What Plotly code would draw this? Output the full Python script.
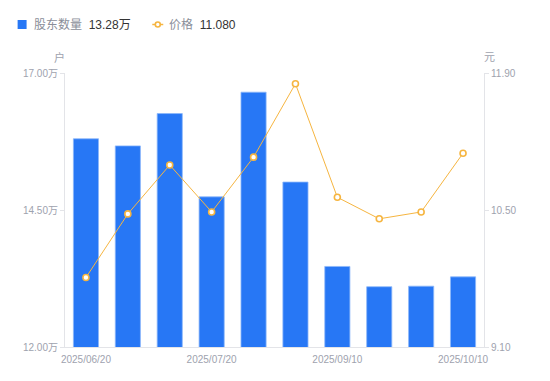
import plotly.graph_objects as go

dates = ["2025/06/20", "2025/06/30", "2025/07/10", "2025/07/20", "2025/07/31",
         "2025/08/20", "2025/09/10", "2025/09/19", "2025/09/30", "2025/10/10"]
holders = [15.80, 15.67, 16.26, 14.74, 16.65, 15.01, 13.47, 13.10, 13.11, 13.28]  # 万户
price = [9.81, 10.46, 10.96, 10.48, 11.04, 11.79, 10.63, 10.41, 10.48, 11.08]
left_ticks = [12.00, 14.50, 17.00]
right_ticks = [9.10, 10.50, 11.90]
x_label_idx = [0, 3, 6, 9]

FONT = "Liberation Sans, Noto Sans CJK SC, sans-serif"
BLUE = "#2777F5"
ORANGE = "#F6B540"
GRAY = "#9EA2AE"
AXIS = "#E3E4E8"

# page body has an 8px default margin: size the figure to fit the window
OFF = 8
W, H = 550 - OFF, 381 - OFF
# plot area in window pixels: x 64.5..484.5, y 73..347
ML = 64.5 - OFF
MR = 550 - 484.5
MT = 73 - OFF
MB = 381 - 347
pw, ph = W - ML - MR, H - MT - MB
def px(x):
    return (x - OFF - ML) / pw
def py(y):
    return (H - MB - (y - OFF)) / ph

xs = list(range(len(dates)))
fig = go.Figure()
fig.add_trace(go.Bar(
    x=xs, y=holders, name="股东数量",
    marker=dict(color=BLUE, line=dict(color="#8DB8FA", width=0.8)),
    yaxis="y", hoverinfo="skip",
))
fig.add_trace(go.Scatter(
    x=xs, y=price, name="价格", mode="lines+markers",
    line=dict(color=ORANGE, width=1),
    marker=dict(size=6, color="white", line=dict(color=ORANGE, width=1.6)),
    yaxis="y2", hoverinfo="skip",
))

fig.update_layout(
    width=W, height=H,
    margin=dict(l=ML, r=MR, t=MT, b=MB, autoexpand=False),
    paper_bgcolor="white", plot_bgcolor="white",
    showlegend=False, bargap=0.4,
    font=dict(family=FONT, size=10, color=GRAY),
    xaxis=dict(
        range=[-0.5, len(dates) - 0.5],
        tickvals=[xs[i] for i in x_label_idx],
        ticktext=[dates[i] for i in x_label_idx],
        showgrid=False, zeroline=False, automargin=False,
        showline=True, linecolor=AXIS, linewidth=1,
        ticks="", ticklabelstandoff=3,
        tickfont=dict(size=10, color=GRAY),
    ),
    yaxis=dict(
        range=[left_ticks[0], left_ticks[-1]],
        tickvals=left_ticks,
        ticktext=[f"{v:.2f}万" for v in left_ticks],
        showgrid=False, zeroline=False, automargin=False,
        showline=True, linecolor=AXIS, linewidth=1,
        ticks="outside", ticklen=4, tickcolor=AXIS,
        tickfont=dict(size=10, color=GRAY),
    ),
    yaxis2=dict(
        range=[right_ticks[0], right_ticks[-1]],
        tickvals=right_ticks,
        ticktext=[f"{v:.2f}" for v in right_ticks],
        overlaying="y", side="right",
        showgrid=False, zeroline=False, automargin=False,
        showline=True, linecolor=AXIS, linewidth=1,
        ticks="outside", ticklen=4, tickcolor=AXIS,
        tickfont=dict(size=10, color=GRAY),
    ),
)

# unit labels
fig.add_annotation(x=px(59), y=py(57), xref="paper", yref="paper", text="户",
                   showarrow=False, font=dict(size=11, color=GRAY),
                   xanchor="center", yanchor="middle")
fig.add_annotation(x=px(490), y=py(57), xref="paper", yref="paper", text="元",
                   showarrow=False, font=dict(size=11, color=GRAY),
                   xanchor="center", yanchor="middle")

# custom legend
fig.add_shape(type="rect", xref="paper", yref="paper",
              x0=px(17), x1=px(26), y0=py(20), y1=py(29),
              fillcolor=BLUE, line=dict(width=0))
fig.add_annotation(x=px(31), y=py(24.5), xref="paper", yref="paper",
                   text=f"股东数量  <span style='color:#333333'>{holders[-1]:.2f}万</span>",
                   showarrow=False, xanchor="left", yanchor="middle",
                   font=dict(size=12, color="#8A8E99"))
fig.add_shape(type="line", xref="paper", yref="paper",
              x0=px(152), x1=px(163), y0=py(24.5), y1=py(24.5),
              line=dict(color=ORANGE, width=1.5))
fig.add_shape(type="circle", xref="paper", yref="paper",
              x0=px(155), x1=px(160), y0=py(22), y1=py(27),
              fillcolor="white", line=dict(color=ORANGE, width=1.6))
fig.add_annotation(x=px(167), y=py(24.5), xref="paper", yref="paper",
                   text=f"价格  <span style='color:#333333'>{price[-1]:.3f}</span>",
                   showarrow=False, xanchor="left", yanchor="middle",
                   font=dict(size=12, color="#8A8E99"))

fig.write_html("out.html")
